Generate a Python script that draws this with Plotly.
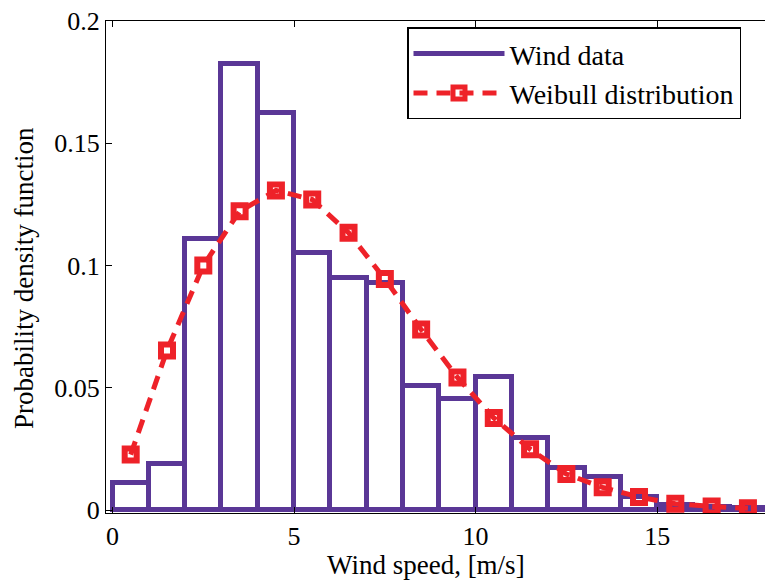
import plotly.graph_objects as go

# Histogram of wind data (bins of width 1 m/s, starting at 0)
bin_left = list(range(0, 18))
wind_pdf = [0.011, 0.019, 0.111, 0.1825, 0.1625, 0.105, 0.0947, 0.093, 0.0508,
            0.0455, 0.0546, 0.0296, 0.0174, 0.0134, 0.0055, 0.002, 0.0012, 0.001]

# Weibull distribution evaluated at bin centers
weib_x = [0.5, 1.5, 2.5, 3.5, 4.5, 5.5, 6.5, 7.5, 8.5, 9.5, 10.5, 11.5, 12.5,
          13.5, 14.5, 15.5, 16.5, 17.5]
weib_pdf = [0.0227, 0.0653, 0.100, 0.1222, 0.1307, 0.127, 0.1134, 0.0945, 0.0738,
            0.0542, 0.0377, 0.0249, 0.0147, 0.0093, 0.0053, 0.0026, 0.0015, 0.0007]

x_ticks = [0, 5, 10, 15]
y_ticks = [0, 0.05, 0.1, 0.15, 0.2]
y_ticktext = ["0", "0.05", "0.1", "0.15", "0.2"]

x_title = "Wind speed, [m/s]"
y_title = "Probability density function"

PURPLE = "#5A3796"
RED = "#EE2229"
FONT = "Liberation Serif"

fig = go.Figure()
fig.add_trace(go.Bar(
    x=[b + 0.5 for b in bin_left], y=wind_pdf, width=1,
    marker=dict(color="white", line=dict(color=PURPLE, width=5)),
    showlegend=False, hoverinfo="skip",
))
fig.add_trace(go.Scatter(
    x=[None], y=[None], mode="lines", name="Wind data",
    line=dict(color=PURPLE, width=5),
))
fig.add_trace(go.Scatter(
    x=weib_x, y=weib_pdf, mode="lines+markers", name="Weibull distribution",
    line=dict(color=RED, width=5, dash="14px,9px"),
    marker=dict(symbol="square-open", size=12, color=RED, line=dict(color=RED, width=6)),
))

fig.update_layout(
    width=765, height=585,
    margin=dict(l=106, r=0, t=21, b=72),
    paper_bgcolor="white", plot_bgcolor="white",
    font=dict(family=FONT, size=26, color="black"),
    bargap=0,
    legend=dict(
        x=(407 - 106) / 659, y=0.987, xanchor="left", yanchor="top",
        bgcolor="white", bordercolor="black", borderwidth=1.5,
        font=dict(family=FONT, size=28), itemwidth=91,
        tracegroupgap=0,
    ),
    xaxis=dict(
        range=[-0.18, 17.97], tickvals=x_ticks, ticks="inside", ticklen=6,
        tickcolor="black", showline=True, linecolor="black", linewidth=1,
        mirror="ticks", showgrid=False, zeroline=False,
        tickfont=dict(family=FONT, size=26),
    ),
    yaxis=dict(
        range=[-0.0012, 0.2], tickvals=y_ticks, ticktext=y_ticktext,
        ticks="inside", ticklen=6, tickcolor="black", showline=True,
        linecolor="black", linewidth=1, mirror=False, showgrid=False,
        zeroline=False,
        tickfont=dict(family=FONT, size=26),
    ),
    annotations=[
        dict(text=x_title, xref="paper", yref="paper",
             x=(426 - 106) / 659, y=(513 - 565) / 492,
             xanchor="center", yanchor="middle", showarrow=False,
             font=dict(family=FONT, size=27)),
        dict(text=y_title, xref="paper", yref="paper",
             x=(24 - 106) / 659, y=(513 - 278) / 492,
             xanchor="center", yanchor="middle", showarrow=False,
             textangle=-90, font=dict(family=FONT, size=27)),
    ],
)

fig.write_html("out.html")
